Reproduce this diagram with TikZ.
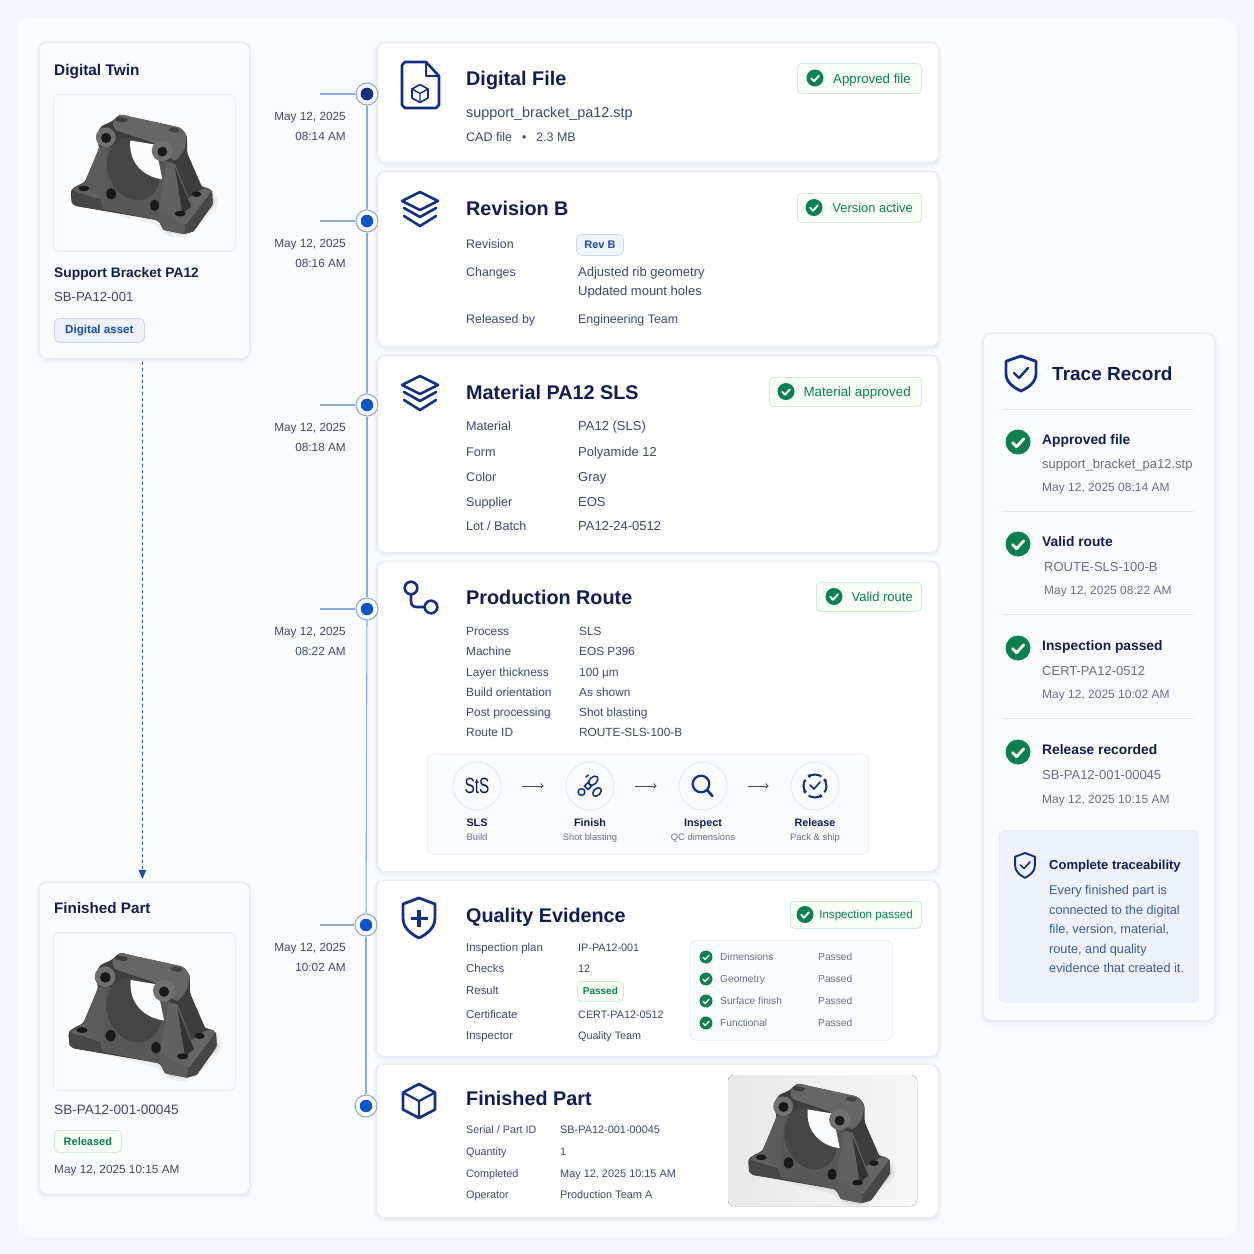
\documentclass[tikz,border=0pt]{standalone}
\usepackage{fontspec}
\setmainfont{Liberation Sans}
\usetikzlibrary{calc}
\usetikzlibrary{arrows}
\definecolor{pagebg}{HTML}{F4F7FC}
\definecolor{panelbg}{HTML}{FBFCFE}
\definecolor{cardline}{HTML}{E6EAF2}
\definecolor{shadowc}{HTML}{8C9BBB}
\definecolor{navy}{HTML}{101D52}
\definecolor{iconblue}{HTML}{12307F}
\definecolor{body}{HTML}{3F4869}
\definecolor{muted}{HTML}{656E8C}
\definecolor{railblue}{HTML}{8FA9D9}
\definecolor{dotblue}{HTML}{0B56C6}
\definecolor{okgreen}{HTML}{0E7F50}
\definecolor{pillblue}{HTML}{EDF2FB}
\definecolor{linkblue}{HTML}{1D4BB0}
\definecolor{noteblue}{HTML}{3D5A9A}
\newcommand{\fsz}[1]{\fontsize{#1}{#1}\selectfont}
\newcommand{\boxat}[7]{\node[#1, anchor=north west, inner sep=0pt, minimum width={(#5-#3)*1pt}, minimum height={(#6-#4)*1pt}] (#2) at (#3,#4) {#7};}
\tikzset{
  t/.style={inner sep=0pt, anchor=base west, text=body, font=\fsz{#1}, yshift=-0.38*#1pt},
  tb/.style={t=#1, text=navy, font=\fsz{#1}\bfseries},
  card/.style={draw=cardline, fill=white, rounded corners=8pt, line width=.8pt,
    preaction={draw=shadowc, draw opacity=.05, line width=7pt, transform canvas={yshift=-2pt}},
    preaction={draw=shadowc, draw opacity=.08, line width=3.5pt, transform canvas={yshift=-1pt}}},
  softcard/.style={card, fill=panelbg},
  inset/.style={draw=cardline, fill=panelbg, rounded corners=6pt, line width=.7pt},
  okpill/.style={draw=green!10!cardline, fill=green!3!white, rounded corners=4pt, line width=.8pt},
  bluepill/.style={draw=blue!10!cardline, fill=pillblue, rounded corners=5pt, line width=.8pt, text=linkblue},
  chk/.style={circle, fill=okgreen, inner sep=0pt, minimum size=#1pt, path picture={
    \draw[white, line width=0.11*#1pt, line cap=round, line join=round]
      ($(path picture bounding box.center)+(-0.22*#1,0.02*#1)$) -- ++(0.16*#1,0.17*#1) -- ++(0.29*#1,-0.32*#1);}},
  railstub/.style={railblue, line width=1.1pt},
  ring/.style={circle, draw=railblue, fill=white, line width=1.1pt, minimum size=22pt, inner sep=0pt},
  core/.style={circle, fill=dotblue, minimum size=12.5pt, inner sep=0pt},
  icon/.style={iconblue, line width=2.6pt, line join=round, line cap=round},
  stepcirc/.style={circle, draw=cardline, fill=panelbg, line width=.9pt, minimum size=48pt, inner sep=0pt},
  stepline/.style={draw=body, line width=1pt, >=to, ->, shorten <=21pt, shorten >=22pt},
  shieldicon/.pic={\draw (0,0) -- (16,6) -- (16,20) .. controls (16,30) and (8,36) .. (0,40) .. controls (-8,36) and (-16,30) .. (-16,20) -- (-16,6) -- cycle;},
  stackicon/.pic={
    \draw (18,9) -- (0,18) -- (-18,9) -- (0,0) -- cycle;
    \draw (-16,16) -- (0,25) -- (16,16);
    \draw (-16,24) -- (0,34) -- (16,24);},
  bracket/.pic={
    % shadow on the table
    \fill[black, opacity=.05, rounded corners=8pt] (75,360) -- (360,430) -- (375,462) -- (450,472) -- (555,365) -- (530,315) -- cycle;
    \fill[black, opacity=.10, rounded corners=4pt] (85,350) -- (365,420) -- (380,452) -- (445,462) -- (540,365) -- (525,325) -- cycle;
    % outline
    \fill[black!76, rounded corners=3pt] (85,320) -- (88,360) -- (100,370) -- (360,415) -- (375,445) -- (440,458) -- (470,450) -- (530,365) -- (528,320) -- (505,310) -- (495,312) -- (450,205) -- (450,150) -- (430,125) -- (270,90) -- (240,82) -- (215,105) -- (180,120) -- (165,150) -- (175,190) -- (130,295) -- (108,305) -- cycle;
    % web with the bore
    \fill[black!66] (188,180) -- (405,235) -- (365,405) -- (360,415) -- (185,380) -- cycle;
    \fill[black!73, rotate around={22:(282,255)}] (282,255) ellipse (80 and 100);
    \fill[panelbg] (272,165) -- (350,178) -- (372,286) .. controls (315,280) and (265,235) .. (272,165);
    % left foot and rib
    \fill[black!62, rounded corners=3pt] (88,322) -- (130,295) -- (185,310) -- (185,352) -- cycle;
    \fill[black!72] (88,322) -- (185,352) -- (188,384) -- (100,370) -- (88,360) -- cycle;
    \fill[black!76] (130,295) -- (175,190) -- (160,300) -- cycle;
    \fill[black!64] (175,185) -- (197,190) -- (190,382) -- (180,350) -- (130,296) -- cycle;
    % right foot and ribs
    \fill[black!76] (432,195) -- (450,205) -- (497,312) -- (470,385) -- (412,240) -- cycle;
    \fill[black!60, rounded corners=3pt] (365,385) -- (455,345) -- (505,312) -- (528,322) -- (445,432) -- cycle;
    \fill[black!72] (445,432) -- (528,322) -- (530,365) -- (470,450) -- (440,458) -- cycle;
    \fill[black!64] (365,385) -- (445,432) -- (440,458) -- (375,445) -- (360,415) -- cycle;
    \fill[black!62] (385,235) -- (412,238) -- (470,385) -- (440,418) -- (375,392) -- (360,385) -- cycle;
    \fill[black!80] (412,250) -- (462,372) -- (435,395) -- cycle;
    % top bar
    \fill[black!60, rounded corners=4pt] (215,105) -- (240,82) -- (270,90) -- (430,125) -- (450,150) -- (442,195) -- (412,232) -- (345,172) -- (222,132) -- cycle;
    \fill[black!76, rounded corners=2pt] (230,90) -- (266,98) -- (256,110) -- (222,102) -- cycle;
    \fill[black!74, rounded corners=2pt] (398,122) -- (428,130) -- (420,142) -- (390,135) -- cycle;
    % bosses and holes
    \fill[black!56] (195,155) circle (31);
    \fill[black!56] (372,197) circle (33);
    \fill[black!90] (196,157) circle (16);
    \fill[black!90] (372,200) circle (15.5);
    \fill[black!90] (126,315) ellipse (17 and 9);
    \fill[black!90] (479,333) ellipse (15 and 9);
    \fill[black!90] (428,394) ellipse (17 and 9);
    \fill[black!90] (212,332) ellipse (15 and 18);
    \fill[black!90] (348,368) ellipse (14 and 18);
  }
}
\begin{document}
\begin{tikzpicture}[x=1pt,y=-1pt]
    \useasboundingbox (0,0) rectangle (1254,1254);
    \fill[pagebg] (0,0) rectangle (1254,1254);
    \fill[panelbg, rounded corners=14pt] (17,17) rectangle (1237,1237);

    % left column
    \boxat{softcard}{twin}{39}{42}{249}{358}{}
    \boxat{inset}{twinimg}{53}{94}{235}{251}{}
    \pic[scale=.3193] at (43.5,87.8) {bracket};
    \node[tb=15.4] (twinhead) at (54,70) {Digital Twin};
    \node[tb=13.8] (twinname) at (54,272) {Support Bracket PA12};
    \node[t=13.1] (twincode) at (54,297) {SB-PA12-001};
    \boxat{bluepill}{twinpill}{54}{318}{144}{342}{\fsz{11.6}\bfseries Digital asset}

    \boxat{softcard}{part}{39}{882}{249}{1194}{}
    \boxat{inset}{partimg}{53}{932}{235}{1090}{}
    \pic[scale=1/3] at (40,925) {bracket};
    \node[tb=15.2] (parthead) at (54,908) {Finished Part};
    \node[t=13.6] (partcode) at (54,1109) {SB-PA12-001-00045};
    \boxat{okpill}{partpill}{54}{1130}{121}{1152}{\fsz{11}\bfseries\color{okgreen}Released}
    \node[t=11.8] (partdate) at (54,1169) {May 12, 2025 10:15 AM};

    \draw[linkblue, dashed, line width=1.1pt, >=triangle 45, ->] ([xshift=-2pt,yshift=-3pt]twin.south) -- ([xshift=-2pt,yshift=3pt]part.north);

    % main cards
    \boxat{card}{file}{377}{42}{938}{162}{}
    \boxat{card}{rev}{377}{171}{938}{346}{}
    \boxat{card}{mat}{377}{355}{938}{552}{}
    \boxat{card}{route}{377}{561}{938}{871}{}
    \boxat{card}{qual}{376}{880}{938}{1056}{}
    \boxat{card}{fin}{376}{1064}{938}{1217}{}

    % timeline
    \foreach \i/\xx/\yy/\da/\db in {1/367/94/{May 12, 2025}/{08:14 AM},2/367/221/{May 12, 2025}/{08:16 AM},3/367/405/{May 12, 2025}/{08:18 AM},4/367/609/{May 12, 2025}/{08:22 AM},5/366/925/{May 12, 2025}/{10:02 AM},6/366/1106/{}/{}} {
      \coordinate (stub\i) at (320,\yy);
      \node[ring] (dot\i) at (\xx,\yy) {};
      \node[t=11.8, anchor=base east] (datea\i) at (346,\yy+22) {\da};
      \node[t=11.8, anchor=base east] (dateb\i) at (346,\yy+42) {\db};
    }
    \foreach \a/\b in {1/2,2/3,3/4,4/5,5/6} \draw[railstub] (dot\a) -- (dot\b);
    \foreach \i in {1,2,3,4,5} \draw[railstub] (stub\i) -- (dot\i);
    \foreach \i in {1,...,6} \node[core] (core\i) at (dot\i) {};
    \node[core, fill=iconblue] (corefirst) at (dot1) {};

    % card titles
    \foreach \nm/\txt/\yy in {a/Digital File/78,b/Revision B/208,c/Material PA12 SLS/392,d/Production Route/597,e/Quality Evidence/915,f/Finished Part/1098}
      \node[tb=19.8] (ttl\nm) at (466,\yy) {\txt};

    % status pills
    \foreach \nm/\xa/\ya/\yb/\xc/\xe/\sz/\txt in {a/797/63/93/815/911/13.3/Approved file,b/797/193/222/814/913/12.9/Version active,c/769/377/406/786/911/13.4/Material approved,d/816/582/611/834/913/13/Valid route,e/790/901/928/805/913/11.6/Inspection passed} {
      \boxat{okpill}{pill\nm}{\xa}{\ya}{921}{\yb}{}
      \node[chk=17] (pillchk\nm) at (\xc,{(\ya+\yb)/2}) {};
      \node[t=\sz, text=okgreen, anchor=base east] (pilltxt\nm) at (\xe,{(\ya+\yb)/2}) {\txt};
    }

    % card 1
    \node[t=14.4] (filename) at (466,112) {support\_bracket\_pa12.stp};
    \node[t=12.5] (filekind) at (466,137) {CAD file};
    \node[t=12.5] (filesep) at (522,137) {•};
    \node[t=12.5] (filesize) at (536,137) {2.3 MB};
    \draw[icon] (405,62) -- (426,62) -- (439,76) -- (439,105) -- (436,108) -- (405,108) -- (402,105) -- (402,65) -- cycle;
    \draw[icon, line width=2pt] (426,62) -- (426,76) -- (439,76);
    \draw[icon, line width=1.6pt] (420,84.5) -- (428,89) -- (428,98) -- (420,102.5) -- (412,98) -- (412,89) -- cycle;
    \draw[icon, line width=1.4pt] (412,89) -- (420,93.5) -- (428,89) (420,93.5) -- (420,102.5);

    % card 2
    \foreach \nm/\lab/\yy in {a/Revision/244,b/Changes/272,c/Released by/319}
      \node[t=12.4] (revlab\nm) at (466,\yy) {\lab};
    \boxat{bluepill}{revpill}{576}{234}{623}{255}{\fsz{11}\bfseries Rev B}
    \node[t=13] (revval1) at (578,272) {Adjusted rib geometry};
    \node[t=13] (revval2) at (578,291) {Updated mount holes};
    \node[t=12.4] (revval3) at (578,319) {Engineering Team};
    \pic[icon] at (420,192) {stackicon};

    % card 3
    \foreach \nm/\lab/\val/\yy in {a/Material/PA12 (SLS)/426,b/Form/Polyamide 12/452,c/Color/Gray/477,d/Supplier/EOS/502,e/{Lot / Batch}/PA12-24-0512/526} {
      \node[t=12.6] (matlab\nm) at (466,\yy) {\lab};
      \node[t=13] (matval\nm) at (578,\yy) {\val};
    }
    \pic[icon] at (420,376) {stackicon};

    % card 4
    \foreach \nm/\lab/\val/\yy in {a/Process/SLS/631,b/Machine/EOS P396/651,c/Layer thickness/100 µm/672,d/Build orientation/As shown/692,e/Post processing/Shot blasting/712,f/Route ID/ROUTE-SLS-100-B/732} {
      \node[t=11.9] (routelab\nm) at (466,\yy) {\lab};
      \node[t=11.8] (routeval\nm) at (579,\yy) {\val};
    }
    \draw[icon] (411,588) circle (6.3);
    \draw[icon] (431,607) circle (6.3);
    \draw[icon] (411,594.5) -- (411,601) .. controls (411,605) and (413,607) .. (417,607) -- (424.7,607);

    % route strip
    \boxat{inset}{strip}{427}{754}{868}{854}{}
    \foreach \i/\xx/\lab/\sub in {1/477/SLS/Build,2/590/Finish/Shot blasting,3/703/Inspect/QC dimensions,4/815/Release/Pack \& ship} {
      \node[stepcirc] (step\i) at (\xx,786) {};
      \node[tb=10.8, anchor=base] (steplab\i) at (\xx,822) {\lab};
      \node[t=9.4, text=muted, anchor=base] (stepsub\i) at (\xx,837) {\sub};
    }
    \foreach \a/\b in {1/2,2/3,3/4} \draw[stepline] (step\a) -- (step\b);
    \node[inner sep=0pt, text=navy, font=\fsz{22}, transform shape, xscale=.7] (stepmark) at (step1) {StS};
    % finish icon
    \begin{scope}[iconblue, line width=1.5pt]
      \draw[rotate around={45:(593.3,780.7)}] (593.3,780.7) ellipse (5.5 and 3.6);
      \draw[rotate around={45:(597,792)}] (597,792) ellipse (5 and 3.4);
      \draw[rotate around={45:(588,786)}] (585.5,783.5) rectangle (590.5,788.5);
      \draw (581.5,792) circle (3.4);
      \draw[line cap=round] (586,777) -- (588.5,775);
    \end{scope}
    % inspect icon
    \draw[iconblue, line width=2.2pt] (701,784) circle (8.3);
    \draw[iconblue, line width=2.6pt, line cap=round] (707,790) -- (712.5,796);
    % release icon
    \draw[iconblue, line width=2pt] (815,786) circle (11.5);
    \foreach \ang in {45,135,225,315} \fill[panelbg] (815,786) ++(\ang:11.5) circle (2.2);
    \foreach \ang in {30,120,210,300} \fill[iconblue] (815,786) ++(-\ang:11.5) circle (1.9);
    \draw[iconblue, line width=1.6pt, line cap=round, line join=round] (810,785) -- (814,789) -- (820,782);

    % card 5
    \foreach \nm/\lab/\val/\yy in {a/Inspection plan/IP-PA12-001/947,b/Checks/12/968,c/Result//990,d/Certificate/CERT-PA12-0512/1014,e/Inspector/Quality Team/1035} {
      \node[t=11.4] (qlab\nm) at (466,\yy) {\lab};
      \node[t=10.8] (qval\nm) at (578,\yy) {\val};
    }
    \boxat{okpill}{qpill}{577}{981}{623}{1001}{\fsz{10}\bfseries\color{okgreen}Passed}
    \boxat{inset}{qbox}{690}{940}{892}{1040}{}
    \foreach \nm/\lab/\yy in {a/Dimensions/957,b/Geometry/979,c/Surface finish/1001,d/Functional/1023} {
      \node[chk=13] (qchk\nm) at (706,\yy) {};
      \node[t=10.2, text=muted] (qitem\nm) at (720,\yy) {\lab};
      \node[t=10.2, text=muted] (qres\nm) at (818,\yy) {Passed};
    }
    \pic[icon, line width=2.8pt] at (419,898) {shieldicon};
    \draw[iconblue, line width=3.4pt] (419,910) -- (419,927) (410.5,918.5) -- (427.5,918.5);

    % card 6
    \foreach \nm/\lab/\val/\yy in {a/{Serial / Part ID}/SB-PA12-001-00045/1129,b/Quantity/1/1151,c/Completed/{May 12, 2025 10:15 AM}/1173,d/Operator/Production Team A/1194} {
      \node[t=10.8] (finlab\nm) at (466,\yy) {\lab};
      \node[t=10.9] (finval\nm) at (560,\yy) {\val};
    }
    \draw[icon] (419,1084) -- (435,1092.5) -- (435,1109.5) -- (419,1118) -- (403,1109.5) -- (403,1092.5) -- cycle;
    \draw[icon, line width=2.2pt] (403,1092.5) -- (419,1101) -- (435,1092.5) (419,1101) -- (419,1118);
    \fill[left color=black!9, right color=black!3, rounded corners=6pt] (728,1075) rectangle (917,1206);
    \pic[scale=.3193] at (720.9,1056.8) {bracket};

    % trace record
    \boxat{softcard}{trace}{983}{333}{1214}{1020}{}
    \pic[icon, line width=2.8pt, xscale=.94, yscale=.875] at (1021,356) {shieldicon};
    \draw[iconblue, line width=2.4pt, line cap=round, line join=round] (1014,373) -- (1019,378) -- (1028,368);
    \node[tb=19] (tracehead) at (1052,373) {Trace Record};
    \foreach \nm/\yy in {a/409,b/511,c/614,d/718} {
      \coordinate (rulel\nm) at (1002,\yy);
      \coordinate (ruler\nm) at (1194,\yy);
      \draw[cardline, line width=.8pt] (rulel\nm) -- (ruler\nm);
    }
    \foreach \nm/\yc/\xb/\head/\sub/\dat/\ys/\yd in {a/442/1042/Approved file/support\_bracket\_pa12.stp/{May 12, 2025 08:14 AM}/464/487,b/544/1044/Valid route/ROUTE-SLS-100-B/{May 12, 2025 08:22 AM}/567/590,c/648/1042/Inspection passed/CERT-PA12-0512/{May 12, 2025 10:02 AM}/671/694,d/752/1042/Release recorded/SB-PA12-001-00045/{May 12, 2025 10:15 AM}/775/799} {
      \node[chk=25] (tchk\nm) at (1018,\yc) {};
      \node[tb=13.8] (ttitle\nm) at (1042,\yc-3) {\head};
      \node[t=13, text=muted] (tsub\nm) at (\xb,\ys) {\sub};
      \node[t=12, text=muted] (tdate\nm) at (\xb,\yd) {\dat};
    }

    % callout
    \boxat{inset, fill=pillblue}{note}{999}{830}{1198}{1002}{}
    \pic[iconblue, line width=1.9pt, line join=round, scale=.62] at (1025,853) {shieldicon};
    \draw[iconblue, line width=1.6pt, line cap=round, line join=round] (1020.5,865) -- (1024,868.5) -- (1030,862);
    \node[tb=13] (notehead) at (1049,865) {Complete traceability};
    \foreach \i/\txt/\yy in {1/Every finished part is/890,2/connected to the digital/910,3/{file, version, material,}/929,4/{route, and quality}/949,5/evidence that created it./968}
      \node[t=12.7, text=noteblue] (noteline\i) at (1049,\yy) {\txt};
\end{tikzpicture}
\end{document}
